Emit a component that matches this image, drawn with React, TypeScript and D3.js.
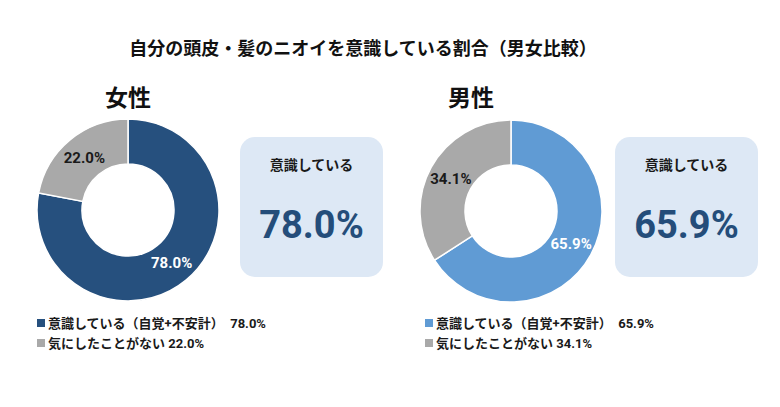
import React from 'react';
import * as d3 from 'd3';

// Survey shares (%), one donut per gender
const categories = ['意識している（自覚+不安計）', '気にしたことがない'];
const groups = ['女性', '男性'];
const femaleValues = [78.0, 22.0];
const maleValues = [65.9, 34.1];
const boxTitle = '意識している';
const chartTitle = '自分の頭皮・髪のニオイを意識している割合（男女比較）';

const W = 780;
const H = 407;
const FONT = 'Roboto, "Noto Sans CJK JP", "Noto Sans", sans-serif';
const GRAY = '#a9a9a9';
const NAVY = '#244d7a';

const panels = [
  { name: groups[0], values: femaleValues, main: '#26507e', cx: 128, cy: 210, titleX: 105, boxX: 240, legendX: 37 },
  { name: groups[1], values: maleValues, main: '#609bd4', cx: 511, cy: 211, titleX: 448, boxX: 615, legendX: 425 },
];

const OUTER = 91;
const INNER = 46;

const pie = d3.pie<number>().sort(null).value(d => d);
const arc = d3.arc<d3.PieArcDatum<number>>().innerRadius(INNER).outerRadius(OUTER);

const fmt = (v: number) => `${v.toFixed(1)}%`;

const Panel: React.FC<{ p: typeof panels[number] }> = ({ p }) => {
  const slices = pie(p.values);
  const colors = [p.main, GRAY];
  return (
    <g>
      <text x={p.titleX} y={106} fontSize={23} fontWeight={700} fill="#111" fontFamily={FONT}>{p.name}</text>

      {/* donut */}
      <g transform={`translate(${p.cx},${p.cy})`}>
        {slices.map((s, i) => (
          <path key={i} d={arc(s) || ''} fill={colors[i]} stroke="#fff" strokeWidth={1.5} />
        ))}
        {slices.map((s, i) => {
          const [x, y] = arc.centroid(s);
          return (
            <text key={`l${i}`} x={x} y={y} dy="0.36em" textAnchor="middle" fontSize={15} fontWeight={700}
              fill={i === 0 ? '#fff' : '#1a1a1a'} fontFamily={FONT}>{fmt(s.data)}</text>
          );
        })}
      </g>

      {/* highlight box */}
      <rect x={p.boxX} y={137} width={143} height={140} rx={15} fill="#dde8f5" />
      <text x={p.boxX + 71.5} y={170} textAnchor="middle" fontSize={14} fontWeight={700} fill="#1a1a1a" fontFamily={FONT}>{boxTitle}</text>
      <text x={p.boxX + 71.5} y={238} textAnchor="middle" fontSize={38} fontWeight={700} fill={NAVY} fontFamily={FONT}>{fmt(p.values[0])}</text>

      {/* legend */}
      {categories.map((c, i) => (
        <g key={c} transform={`translate(${p.legendX},${323 + i * 20})`}>
          <rect x={0} y={-4} width={8} height={8} fill={colors[i]} />
          <text x={11} y={0} dy="0.36em" fontSize={13} fontWeight={700} fill="#1a1a1a" fontFamily={FONT}>
            {i === 0 ? `${c}　${fmt(p.values[i])}` : `${c} ${fmt(p.values[i])}`}
          </text>
        </g>
      ))}
    </g>
  );
};

export default function App() {
  return (
    <svg width={W} height={H} viewBox={`0 0 ${W} ${H}`} style={{ position: 'absolute', left: 0, top: 0, background: '#fff' }}>
      <rect width={W} height={H} fill="#fff" />
      <text x={363} y={55} textAnchor="middle" fontSize={18} fontWeight={700} fill="#111" fontFamily={FONT}>{chartTitle}</text>
      {panels.map(p => <Panel key={p.name} p={p} />)}
    </svg>
  );
}
